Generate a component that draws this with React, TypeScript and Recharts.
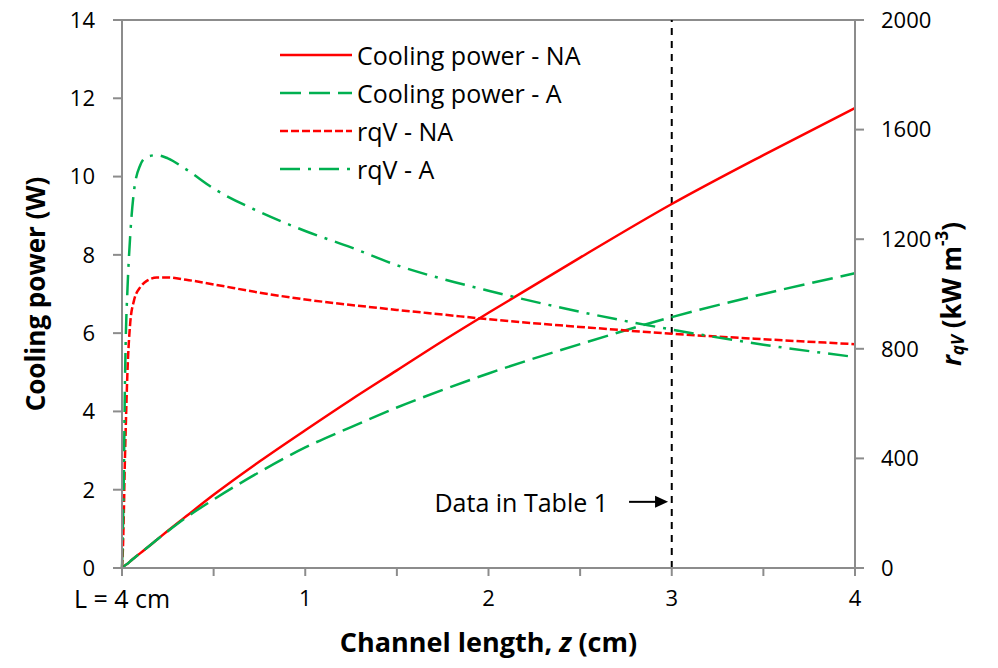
import { LineChart, Line, XAxis, YAxis, ReferenceLine } from 'recharts';

const FONT = '"Open Sans", sans-serif';
const AXIS = '#8c8c8c';
const RED = '#ff0000';
const GREEN = '#00b050';

// channel position z (cm)
const zValues = [0, 0.005, 0.01, 0.015, 0.02, 0.03, 0.045, 0.065, 0.1, 0.135, 0.19, 0.25, 0.35, 0.5, 0.75, 1, 1.25, 1.5, 1.75, 2, 2.5, 3, 3.5, 4];
// cooling power (W), left axis
const coolingNA = [0, 0.02, 0.04, 0.06, 0.08, 0.11, 0.17, 0.25, 0.38, 0.51, 0.72, 0.95, 1.32, 1.87, 2.72, 3.52, 4.3, 5.05, 5.8, 6.52, 7.93, 9.3, 10.55, 11.75];
const coolingA = [0, 0.02, 0.04, 0.06, 0.08, 0.11, 0.17, 0.25, 0.38, 0.51, 0.72, 0.94, 1.29, 1.75, 2.45, 3.08, 3.6, 4.1, 4.55, 4.97, 5.72, 6.41, 7.0, 7.53];
// r_qV (kW m-3), right axis
const rqvNA = [0, 70, 200, 370, 500, 720, 895, 975, 1025, 1048, 1060, 1060, 1052, 1035, 1005, 980, 960, 942, 925, 908, 880, 855, 835, 817];
const rqvA = [0, 150, 330, 620, 820, 1020, 1215, 1373, 1471, 1500, 1507, 1495, 1455, 1385, 1300, 1230, 1170, 1105, 1055, 1012, 935, 870, 815, 770];

const xTicks = [0, 0.5, 1, 1.5, 2, 2.5, 3, 3.5, 4];
const leftTicks = [0, 2, 4, 6, 8, 10, 12, 14];
const rightTicks = [0, 400, 800, 1200, 1600, 2000];

const tableZ = 3;
const arrowFrom = { x: 2.767, y: 1.69 };
const arrowTo = { x: 2.98, y: 1.69 };

const legendItems = [
  { name: 'Cooling power - NA', color: RED, dash: '' },
  { name: 'Cooling power - A', color: GREEN, dash: '21 8' },
  { name: 'rqV - NA', color: RED, dash: '8 3' },
  { name: 'rqV - A', color: GREEN, dash: '20 8 3 8' },
];

const data = zValues.map((z, i) => ({
  z,
  coolingNA: coolingNA[i],
  coolingA: coolingA[i],
  rqvNA: rqvNA[i],
  rqvA: rqvA[i],
}));

const tickStyle = { fill: '#000', fontSize: 22, fontFamily: FONT };

// x ticks: labels only on whole units, the first one reads "L = 4 cm"
function XTick(props: any) {
  const { x, y, payload } = props;
  const v = payload.value;
  if (!Number.isInteger(v)) return null;
  const label = v === 0 ? 'L = 4 cm' : String(v);
  return (
    <text x={x} y={y} dy="0.71em" textAnchor="middle" fontSize={v === 0 ? 25 : 22} fontFamily={FONT} fill="#000">
      {label}
    </text>
  );
}

function LegendBox() {
  return (
    <div style={{ position: 'absolute', left: 280, top: 36, fontFamily: FONT, fontSize: 25, color: '#000' }}>
      {legendItems.map(it => (
        <div key={it.name} style={{ display: 'flex', alignItems: 'center', height: 38 }}>
          <svg width={72} height={10} style={{ marginRight: 5 }}>
            <line x1={0} y1={5} x2={72} y2={5} stroke={it.color} strokeWidth={2.5} strokeDasharray={it.dash || undefined} />
          </svg>
          <span>{it.name}</span>
        </div>
      ))}
    </div>
  );
}

function ArrowNote(props: any) {
  const { x1, y1, x2, y2 } = props;
  return (
    <g>
      <text x={x1 - 21} y={y1} textAnchor="end" dominantBaseline="central" fontSize={25} fontFamily={FONT} fill="#000">
        Data in Table 1
      </text>
      <line x1={x1} y1={y1} x2={x2 - 10} y2={y2} stroke="#000" strokeWidth={2} />
      <polygon points={`${x2},${y2} ${x2 - 13},${y2 - 6} ${x2 - 13},${y2 + 6}`} fill="#000" />
    </g>
  );
}

export default function App() {
  return (
    <div style={{ position: 'absolute', left: 0, top: 0, width: 998, height: 668, background: '#fff' }}>
      <LineChart width={998} height={668} data={data} margin={{ top: 20, right: 0, left: 0, bottom: 0 }}>
        <XAxis
          dataKey="z"
          type="number"
          domain={[0, 4]}
          ticks={xTicks}
          height={100}
          stroke={AXIS}
          strokeWidth={2}
          tickSize={8}
          tickMargin={14}
          tick={<XTick />}
          label={({ viewBox }: any) => (
            <text x={viewBox.x + viewBox.width / 2} y={viewBox.y + 84} textAnchor="middle" fontSize={27} fontWeight="bold" fontFamily={FONT} fill="#000">
              Channel length, <tspan fontStyle="italic">z</tspan> (cm)
            </text>
          )}
        />
        <YAxis
          yAxisId="left"
          domain={[0, 14]}
          ticks={leftTicks}
          width={122}
          stroke={AXIS}
          strokeWidth={2}
          tickSize={9}
          tickMargin={18}
          tick={tickStyle}
          label={({ viewBox }: any) => {
            const cx = viewBox.x + 35;
            const cy = viewBox.y + viewBox.height / 2;
            return (
              <text x={cx} y={cy} transform={`rotate(-90 ${cx} ${cy})`} textAnchor="middle" dominantBaseline="central" fontSize={26} fontWeight="bold" fontFamily={FONT} fill="#000">
                Cooling power (W)
              </text>
            );
          }}
        />
        <YAxis
          yAxisId="right"
          orientation="right"
          domain={[0, 2000]}
          ticks={rightTicks}
          width={143}
          stroke={AXIS}
          strokeWidth={2}
          tickSize={9}
          tickMargin={17}
          tick={tickStyle}
          label={({ viewBox }: any) => {
            const cx = viewBox.x + 96;
            const cy = viewBox.y + viewBox.height / 2;
            return (
              <text x={cx} y={cy} transform={`rotate(-90 ${cx} ${cy})`} textAnchor="middle" dominantBaseline="central" fontSize={26} fontWeight="bold" fontFamily={FONT} fill="#000">
                <tspan fontStyle="italic">r</tspan>
                <tspan fontStyle="italic" fontSize={17} dy={6}>qV</tspan>
                <tspan dy={-6}> (kW m</tspan>
                <tspan fontSize={17} dy={-10}>-3</tspan>
                <tspan dy={10}>)</tspan>
              </text>
            );
          }}
        />
        <ReferenceLine yAxisId="left" y={14} stroke={AXIS} strokeWidth={2} />
        <ReferenceLine yAxisId="left" x={tableZ} stroke="#000" strokeWidth={2} strokeDasharray="7 6" />
        <ReferenceLine yAxisId="left" segment={[arrowFrom, arrowTo]} shape={ArrowNote} />
        <Line yAxisId="left" dataKey="coolingNA" name="Cooling power - NA" type="monotone" stroke={RED} strokeWidth={2.5} dot={false} isAnimationActive={false} />
        <Line yAxisId="left" dataKey="coolingA" name="Cooling power - A" type="monotone" stroke={GREEN} strokeWidth={2.5} strokeDasharray="21 8" dot={false} isAnimationActive={false} />
        <Line yAxisId="right" dataKey="rqvNA" name="rqV - NA" type="monotone" stroke={RED} strokeWidth={2.5} strokeDasharray="8 3" dot={false} isAnimationActive={false} />
        <Line yAxisId="right" dataKey="rqvA" name="rqV - A" type="monotone" stroke={GREEN} strokeWidth={2.5} strokeDasharray="20 8 3 8" dot={false} isAnimationActive={false} />
      </LineChart>
      <LegendBox />
    </div>
  );
}
